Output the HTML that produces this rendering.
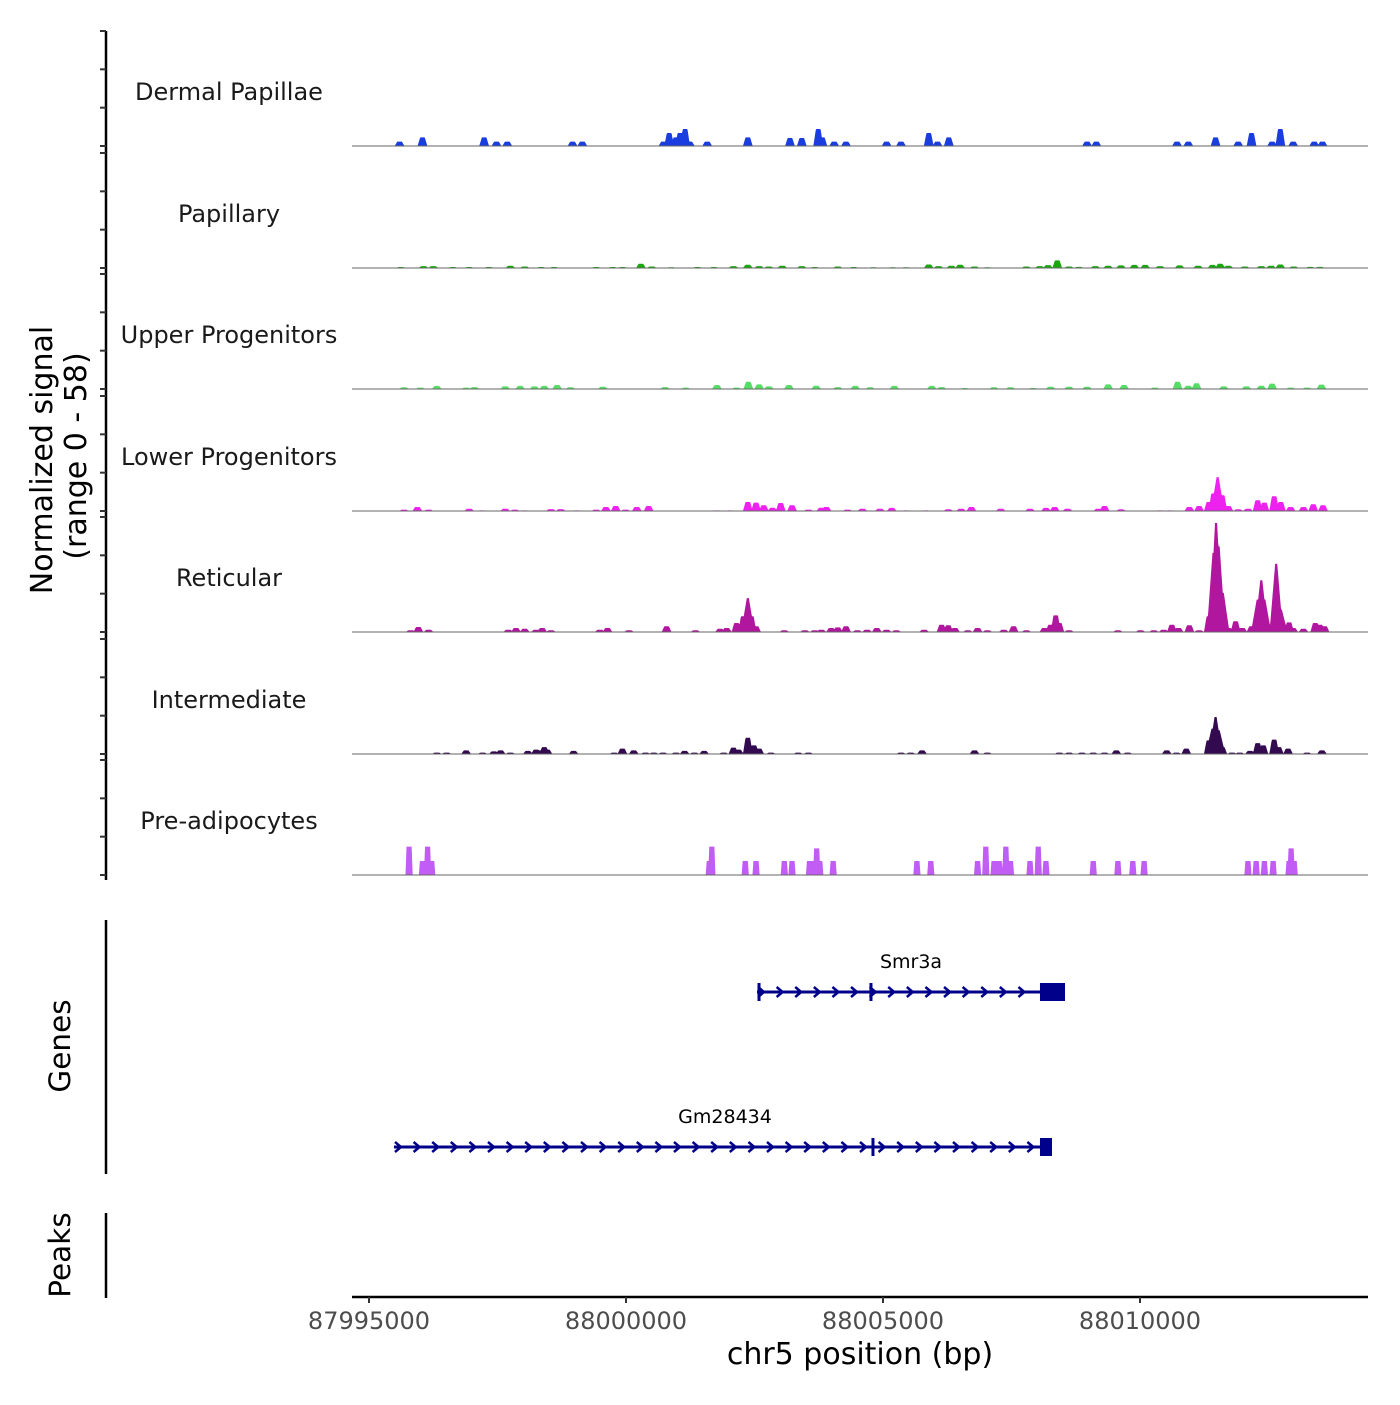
<!DOCTYPE html>
<html><head><meta charset="utf-8">
<style>
html,body{margin:0;padding:0;background:#fff;}
svg text{font-family:"DejaVu Sans","Liberation Sans",sans-serif;}
</style></head>
<body>
<svg id="chart" width="1400" height="1400" viewBox="0 0 1400 1400" xmlns="http://www.w3.org/2000/svg">
<g id="tracks"></g>
<g id="yaxis"></g>
<g id="genes"></g>
<g id="xaxis"></g>
<text transform="translate(52,460) rotate(-90)" text-anchor="middle" font-size="30" fill="#000">Normalized signal</text>
<text transform="translate(86,456) rotate(-90)" text-anchor="middle" font-size="30" fill="#000">(range 0 - 58)</text>
<text transform="translate(70,1046) rotate(-90)" text-anchor="middle" font-size="29.5" fill="#000">Genes</text>
<text transform="translate(70,1255) rotate(-90)" text-anchor="middle" font-size="29.5" fill="#000">Peaks</text>
<text x="860" y="1364" text-anchor="middle" font-size="30" fill="#000">chr5 position (bp)</text>
</svg>
<script>
// ---- data ----
const trackNames = ["Dermal Papillae","Papillary","Upper Progenitors","Lower Progenitors","Reticular","Intermediate","Pre-adipocytes"];
const trackColors = ["#1a3de0","#18a80c","#55dd66","#ee22ee","#b0179e","#330a50","#c15cf5"];
// peak positions in kb relative to 87995000, heights in normalized signal
const dpPos = [0.595,1.04,2.24,2.48,2.69,3.96,4.15,5.73,5.84,5.97,6.05,6.15,6.24,6.58,7.37,8.19,8.42,8.74,8.82,9.05,9.28,10.07,10.35,10.89,11.06,11.28,13.97,14.15,15.72,15.94,16.47,16.91,17.17,17.57,17.73,17.98,18.39,18.55];
const dpVal = [2.3,4.5,4.5,2.3,2.3,2.3,2.3,2.3,6.8,4.5,6.8,8.9,2.3,2.3,4.5,4.2,4.2,8.9,4.5,2.3,2.3,2.3,2.3,6.8,2.3,4.5,2.3,2.3,2.3,2.3,4.5,2.3,6.8,2.3,8.9,2.3,2.3,2.3];
const papPos = [0.62,1.06,1.25,1.63,1.95,2.33,2.75,3.03,3.35,3.60,4.42,4.74,4.93,5.29,5.50,5.88,6.39,6.71,7.09,7.37,7.59,7.78,8.04,8.42,8.67,9.12,9.43,9.81,10.19,10.45,10.89,11.08,11.33,11.50,11.78,12.03,12.79,13.05,13.21,13.39,13.62,13.81,14.13,14.38,14.63,14.89,15.10,15.39,15.77,16.13,16.41,16.56,16.72,17.04,17.36,17.55,17.73,17.99,18.31,18.50];
const papVal = [0.5,1,1,0.5,0.5,0.5,1.2,0.8,0.5,0.5,0.5,0.5,0.5,2.2,0.8,0.4,0.5,0.5,1,1.7,1,0.8,1.2,1,0.5,0.8,0.5,0.4,0.4,0.4,1.8,1,1.2,1.7,0.8,0.4,0.8,1,1.5,4,0.8,0.6,1,1.2,1.4,1.6,1.6,1,1.4,1.2,1.6,2.2,1.2,0.8,1,1.2,1.8,0.8,0.6,0.6];
const upPos = [0.68,1.00,1.32,1.89,2.05,2.65,2.94,3.22,3.41,3.66,3.92,4.55,5.76,6.16,6.77,7.15,7.38,7.59,7.78,8.17,8.70,9.12,9.46,9.75,10.22,10.95,11.14,11.59,12.16,12.48,12.92,13.26,13.62,13.97,14.38,14.69,15.29,15.73,15.94,16.10,16.63,17.07,17.36,17.57,17.93,18.25,18.53];
const upVal = [0.9,0.7,1.6,0.7,1.0,1.4,1.6,1.4,1.6,2.1,0.9,1.2,1.0,0.7,2.1,0.7,3.8,2.4,1.4,2.1,1.7,1.0,1.6,0.9,1.6,1.6,1.0,0.5,0.9,0.9,0.5,1.2,1.2,1.2,2.4,2.1,0.7,3.8,1.7,3.0,1.4,1.4,1.7,2.8,0.7,0.7,2.3];
const lpPos = [0.68,0.94,1.16,1.95,2.20,2.65,2.84,3.03,3.54,3.73,4.04,4.42,4.61,4.80,4.99,5.21,5.44,6.77,7.02,7.37,7.53,7.68,7.85,8.01,8.23,8.55,8.80,8.90,9.31,9.60,9.94,10.17,10.45,10.83,11.27,11.52,11.72,12.29,12.86,13.17,13.34,13.59,14.19,14.31,14.63,15.39,15.58,15.96,16.15,16.34,16.43,16.51,16.60,16.72,16.91,17.10,17.29,17.42,17.61,17.74,17.93,18.18,18.37,18.56];
const lpVal = [0.7,2.1,0.7,1.2,0.3,1.2,0.7,0.3,1.0,1.0,0.3,0.7,2.1,2.6,0.7,2.1,2.6,0.3,0.3,4.7,4.4,3.0,1.7,4.2,3.0,0.7,1.7,2.1,0.7,1.2,1.2,1.6,0.3,0.3,0.9,1.2,2.1,1.2,1.2,1.6,2.1,1.2,1.2,2.6,0.9,0.3,0.3,2.1,2.6,4.7,9.1,17.7,8.2,2.6,0.9,1.2,5.6,4.4,7.7,4.7,2.1,2.1,3.5,3.0];
const retPos = [0.81,0.96,1.16,2.71,2.86,3.03,3.25,3.37,3.54,4.49,4.64,5.06,5.79,6.35,6.83,6.96,7.15,7.28,7.37,7.44,7.53,8.08,8.48,8.67,8.80,8.99,9.12,9.28,9.50,9.69,9.88,10.07,10.26,10.80,11.14,11.27,11.40,11.65,11.84,12.03,12.35,12.54,12.79,13.14,13.26,13.36,13.43,13.62,14.57,15.01,15.27,15.46,15.62,15.75,15.96,16.15,16.34,16.43,16.48,16.53,16.61,16.72,16.86,16.99,17.17,17.29,17.36,17.42,17.52,17.65,17.74,17.90,17.98,18.18,18.41,18.50,18.59];
const retVal = [0.9,2.6,1.2,1.2,2.1,1.7,1.2,2.1,0.9,1.2,2.1,0.9,3.0,0.9,1.7,2.1,4.7,8.2,17.7,8.2,3.0,0.9,0.9,0.9,1.2,2.1,2.4,3.0,0.9,1.2,2.1,1.2,0.9,1.2,3.8,3.5,2.1,0.9,2.1,0.9,1.2,3.0,0.9,2.1,3.8,8.7,4.7,0.9,0.9,0.9,0.9,1.2,3.8,2.1,3.5,0.9,8.2,41.2,56.9,44.7,20.5,2.1,5.6,2.1,3.0,16.9,27.0,16.9,3.8,35.6,11.7,5.0,2.1,1.7,4.7,3.8,3.0];
const intPos = [1.32,1.51,1.89,2.21,2.43,2.56,2.75,3.09,3.25,3.35,3.41,3.47,3.98,4.77,4.93,5.15,5.38,5.54,5.72,5.97,6.14,6.33,6.52,6.90,7.09,7.19,7.37,7.49,7.59,7.82,8.35,8.55,10.35,10.54,10.76,11.78,12.03,13.43,13.62,13.87,14.09,14.31,14.54,14.76,15.52,15.71,15.90,16.34,16.41,16.47,16.53,16.60,16.79,16.94,17.14,17.29,17.40,17.61,17.70,17.88,18.25,18.54];
const intVal = [0.7,0.7,1.9,0.7,1.4,1.9,0.7,1.6,2.3,1.9,3.6,2.3,1.6,0.7,2.8,1.9,0.7,0.7,0.7,0.7,1.6,0.7,1.6,0.7,3.3,2.3,8.5,4.5,2.8,0.7,0.7,0.7,0.7,0.7,1.9,1.9,0.7,0.7,0.7,0.7,0.7,0.7,1.9,0.7,1.9,0.7,2.8,7.1,13.2,19.3,12.4,3.6,0.7,0.7,1.6,5.7,4.5,7.5,3.6,2.8,0.7,1.9];
const prePos = [0.78,1.04,1.14,1.22,6.62,6.67,7.32,7.53,8.08,8.23,8.57,8.67,8.71,8.77,9.03,10.66,10.93,11.84,12.00,12.16,12.26,12.39,12.48,12.86,13.02,13.17,14.09,14.57,14.86,15.08,17.10,17.26,17.42,17.59,17.90,17.94,18.00];
const preVal = [14.8,7.3,14.8,7.3,7.3,14.8,7.3,7.3,7.3,7.3,7.3,7.3,13.9,7.3,7.3,7.3,7.3,7.3,14.8,7.3,7.3,14.8,7.3,7.3,14.8,7.3,7.3,7.3,7.3,7.3,7.3,7.3,7.3,7.3,7.3,13.9,7.3];
const xTicks = [87995000,88000000,88005000,88010000];
const yTicks = [0,20,40,60];
const geneNames = ["Smr3a","Gm28434"];
const geneStart = [88002549,87995486];
const geneEnd = [88008541,88008288];
const geneExonStart = [88008054,88008054];
const geneMark = [88004766,88004805];

// ---- scales ----
const ORIGIN = 87995000;
function xs(bp){ return 369 + (bp-ORIGIN)*0.0514; }
const baselines = [146,268,389,511,632,754,875];
const YPX = 115/60;
function ys(t,v){ return baselines[t] - v*YPX; }

const NS="http://www.w3.org/2000/svg";
function mk(tag,attrs,parent){const e=document.createElementNS(NS,tag);for(const k in attrs)e.setAttribute(k,attrs[k]);parent.appendChild(e);return e;}

const allPos=[dpPos,papPos,upPos,lpPos,retPos,intPos,prePos];
const allVal=[dpVal,papVal,upVal,lpVal,retVal,intVal,preVal];
const tg=document.getElementById('tracks');
for(let t=0;t<7;t++){
  const pos=allPos[t], val=allVal[t];
  const flat = t===6;
  const step=10, start=0, end=19600;
  let d="M"+xs(ORIGIN+start)+","+baselines[t];
  for(let b=start;b<=end;b+=step){
    let v=0;
    for(let i=0;i<pos.length;i++){
      const dist=Math.abs(b-pos[i]*1000);
      let k;
      if(flat){ k = dist<=50?1:(dist<=70?1-(dist-50)/20:0); }
      else {
        const plat = val[i]>10?20:45, slope = val[i]>10?110:50;
        k = dist<=plat?1:Math.max(0,1-(dist-plat)/slope);
      }
      v=Math.max(v,val[i]*k);
    }
    d+=" L"+xs(ORIGIN+b).toFixed(2)+","+ys(t,v).toFixed(2);
  }
  d+=" L"+xs(ORIGIN+end)+","+baselines[t]+" Z";
  const p=mk('path',{d:d,fill:trackColors[t],stroke:'none'},tg);
  
  
  const bl=mk('line',{x1:352,x2:1368,y1:baselines[t],y2:baselines[t],stroke:'#666','stroke-width':1},tg);
  
  
  const lab=mk('text',{x:229,y:baselines[t]-46,'text-anchor':'middle','font-size':24,fill:'#1a1a1a'},tg);
  lab.textContent=trackNames[t];
  
  
}

// y axis
const ya=document.getElementById('yaxis');
const yl=mk('line',{x1:106,x2:106,y1:31,y2:880,stroke:'#000','stroke-width':2.5},ya);


for(let t=0;t<7;t++){
  for(const v of yTicks){
    const tk=mk('line',{x1:100,x2:106,y1:ys(t,v),y2:ys(t,v),stroke:'#333','stroke-width':2},ya);
    
    
  }
}
const gl=mk('line',{x1:106,x2:106,y1:920,y2:1174,stroke:'#000','stroke-width':2.5},ya);


const pl=mk('line',{x1:106,x2:106,y1:1213,y2:1298,stroke:'#000','stroke-width':2.5},ya);



// genes
const gg=document.getElementById('genes');
const geneY=[992,1147];
const navy='#00008b';
for(let g=0;g<geneNames.length;g++){
  const y=geneY[g], x0=xs(geneStart[g]), x1=xs(geneEnd[g]);
  const ln=mk('line',{x1:x0,x2:x1,y1:y,y2:y,stroke:navy,'stroke-width':3},gg);
  
  
  for(let x=x0+4;x<xs(geneExonStart[g])-4;x+=18.6){
    const c=mk('path',{d:`M${x-3},${y-5} L${x+3},${y} L${x-3},${y+5}`,stroke:navy,'stroke-width':2.5,fill:'none'},gg);
    
    
  }
  const m=mk('line',{x1:xs(geneMark[g]),x2:xs(geneMark[g]),y1:y-9,y2:y+9,stroke:navy,'stroke-width':3},gg);
  
  
  if(g===0){
    const m2=mk('line',{x1:x0+2,x2:x0+2,y1:y-9,y2:y+9,stroke:navy,'stroke-width':3},gg);
    
    
  }
  const ex=mk('rect',{x:xs(geneExonStart[g]),y:y-9,width:x1-xs(geneExonStart[g]),height:18,fill:navy},gg);
  
  
  const lb=mk('text',{x:g===0?911:725,y:y-24,'text-anchor':'middle','font-size':19,fill:'#000'},gg);
  lb.textContent=geneNames[g];
  
  
}

// x axis
const xa=document.getElementById('xaxis');
const xl=mk('line',{x1:352,x2:1368,y1:1297,y2:1297,stroke:'#000','stroke-width':2.5},xa);


for(const v of xTicks){
  const tk=mk('line',{x1:xs(v),x2:xs(v),y1:1297,y2:1303,stroke:'#333','stroke-width':2},xa);
  
  
  const tl=mk('text',{x:xs(v),y:1329,'text-anchor':'middle','font-size':24,fill:'#4d4d4d'},xa);
  tl.textContent=String(v);
  
  
}
</script>
</body></html>
